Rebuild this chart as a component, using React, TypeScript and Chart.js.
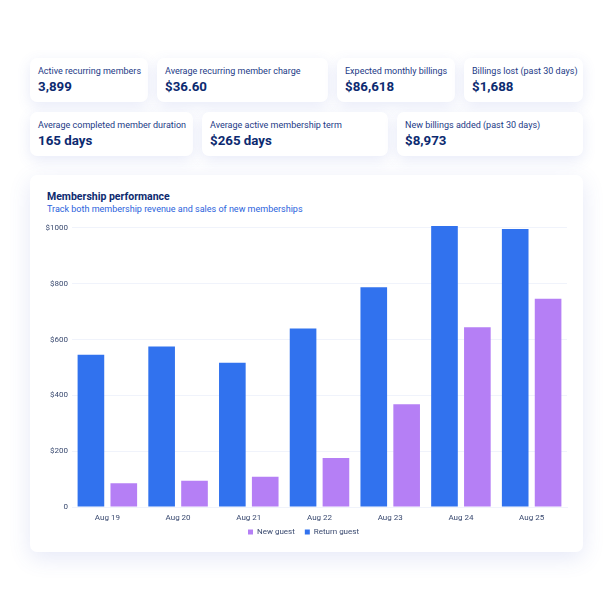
import { useEffect, useRef } from "react";
import Chart from "chart.js/auto";

const days = ["Aug 19", "Aug 20", "Aug 21", "Aug 22", "Aug 23", "Aug 24", "Aug 25"];
const returnGuest = [546, 575, 517, 640, 788, 1007, 996];
const newGuest = [85, 94, 108, 176, 368, 644, 746];
const yTicks = [0, 200, 400, 600, 800, 1000];

const statsRow1 = [
  { label: "Active recurring members", value: "3,899", left: 30, width: 118 },
  { label: "Average recurring member charge", value: "$36.60", left: 157, width: 171 },
  { label: "Expected monthly billings", value: "$86,618", left: 337, width: 118 },
  { label: "Billings lost (past 30 days)", value: "$1,688", left: 464, width: 119 },
];
const statsRow2 = [
  { label: "Average completed member duration", value: "165 days", left: 30, width: 163 },
  { label: "Average active membership term", value: "$265 days", left: 202, width: 186 },
  { label: "New billings added (past 30 days)", value: "$8,973", left: 397, width: 186 },
];

const FONT = "Roboto, 'Noto Sans', sans-serif";
const BLUE = "#3172ee";
const PURPLE = "#b57ff5";

const cardStyle: React.CSSProperties = {
  position: "absolute",
  background: "#fff",
  borderRadius: 7,
  boxShadow: "0 4px 14px rgba(70, 95, 200, 0.13)",
  boxSizing: "border-box",
};

const StatCard = ({ label, value, left, width, top }: { label: string; value: string; left: number; width: number; top: number }) => (
  <div style={{ ...cardStyle, left, top, width, height: 44, padding: "7px 8px" }}>
    <div style={{ fontSize: 9, lineHeight: "12px", color: "#1c3a86", whiteSpace: "nowrap" }}>{label}</div>
    <div style={{ fontSize: 13.3, lineHeight: "18px", fontWeight: 700, color: "#0c2a70", marginTop: 1 }}>{value}</div>
  </div>
);

const MembershipChart = () => {
  const canvasRef = useRef<HTMLCanvasElement>(null);
  const chartRef = useRef<Chart | null>(null);

  useEffect(() => {
    if (!canvasRef.current) return;
    const ctx = canvasRef.current.getContext("2d");
    if (!ctx) return;
    if (chartRef.current) chartRef.current.destroy();

    chartRef.current = new Chart(ctx, {
      type: "bar",
      data: {
        labels: days,
        datasets: [
          {
            label: "Return guest",
            data: returnGuest,
            backgroundColor: BLUE,
            categoryPercentage: 0.93,
            barPercentage: 0.81,
          },
          {
            label: "New guest",
            data: newGuest,
            backgroundColor: PURPLE,
            categoryPercentage: 0.93,
            barPercentage: 0.81,
          },
        ],
      },
      options: {
        animation: false,
        responsive: true,
        maintainAspectRatio: false,
        layout: { padding: { top: 8, right: 3, bottom: 0, left: 0 } },
        scales: {
          x: {
            grid: { display: false, drawTicks: false },
            border: { display: true, color: "#f0f3fb" },
            afterFit: (scale) => {
              // keep the axis short so the legend sits close, but don't clip the labels
              scale.height = 11;
              (scale as any)._computeLabelArea = () => undefined;
            },
            ticks: { color: "#3a4a70", font: { family: FONT, size: 8 }, padding: 6 },
          },
          y: {
            min: 0,
            max: 1015,
            afterBuildTicks: (scale) => {
              scale.ticks = yTicks.map((v) => ({ value: v }));
            },
            afterFit: (scale) => {
              scale.width = 32;
            },
            grid: { color: "#f0f3fb", drawTicks: false },
            border: { display: false },
            ticks: {
              color: "#3a4a70",
              padding: 4,
              font: { family: FONT, size: 8 },
              callback: (value) => (Number(value) === 0 ? "0" : `$${value}`),
            },
          },
        },
        plugins: {
          legend: {
            position: "bottom",
            reverse: true,
            labels: {
              boxWidth: 5,
              boxHeight: 5,
              padding: 10,
              color: "#3a4a70",
              font: { family: FONT, size: 8 },
            },
          },
          tooltip: { enabled: false },
        },
      },
    });

    return () => {
      if (chartRef.current) {
        chartRef.current.destroy();
        chartRef.current = null;
      }
    };
  }, []);

  return (
    <div style={{ position: "absolute", left: 40, top: 215, width: 530, height: 331 }}>
      <canvas ref={canvasRef} />
    </div>
  );
};

const App = () => {
  return (
    <div style={{ position: "absolute", left: 0, top: 0, width: 612, height: 612, background: "#fff", fontFamily: FONT, overflow: "hidden" }}>
      {statsRow1.map((s) => (
        <StatCard key={s.label} {...s} top={58} />
      ))}
      {statsRow2.map((s) => (
        <StatCard key={s.label} {...s} top={112} />
      ))}
      <div style={{ ...cardStyle, left: 30, top: 175, width: 553, height: 377, boxShadow: "0 6px 22px rgba(70, 95, 200, 0.14)" }}>
        <div style={{ position: "absolute", left: 17, top: 15, fontSize: 10.5, fontWeight: 700, color: "#0c2a70", whiteSpace: "nowrap" }}>
          Membership performance
        </div>
        <div style={{ position: "absolute", left: 17, top: 29, fontSize: 9, color: "#2a62dc", whiteSpace: "nowrap" }}>
          Track both membership revenue and sales of new memberships
        </div>
      </div>
      <MembershipChart />
    </div>
  );
};

export default App;
